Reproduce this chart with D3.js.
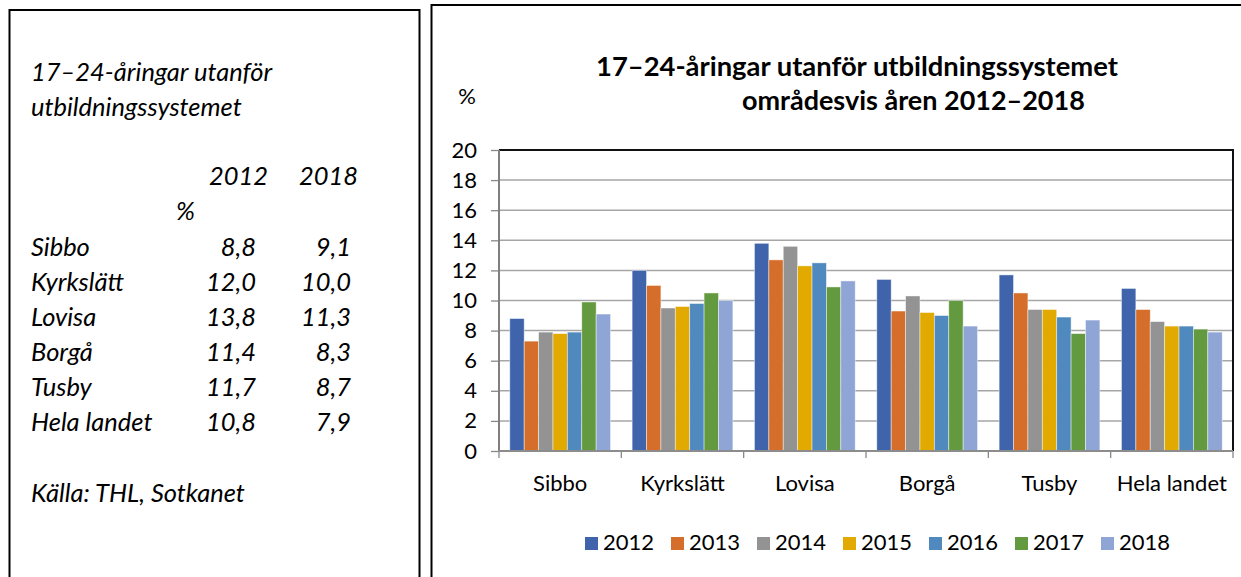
<!DOCTYPE html>
<html><head><meta charset="utf-8">
<script src="https://cdn.jsdelivr.net/npm/d3@7"></script>
<style>
body{margin:0;background:#fff;}
svg{display:block;font-family:Lato,"Open Sans",sans-serif;}
</style>
</head><body>
<svg id="c" width="1241" height="577"></svg>
<script>
// ---- data ----
const categories = ["Sibbo","Kyrkslätt","Lovisa","Borgå","Tusby","Hela landet"];
const years = ["2012","2013","2014","2015","2016","2017","2018"];
const v2012 = [8.8, 12.0, 13.8, 11.4, 11.7, 10.8];
const v2013 = [7.3, 11.0, 12.7, 9.3, 10.5, 9.4];
const v2014 = [7.9, 9.5, 13.6, 10.3, 9.4, 8.6];
const v2015 = [7.8, 9.6, 12.3, 9.2, 9.4, 8.3];
const v2016 = [7.9, 9.8, 12.5, 9.0, 8.9, 8.3];
const v2017 = [9.9, 10.5, 10.9, 10.0, 7.8, 8.1];
const v2018 = [9.1, 10.0, 11.3, 8.3, 8.7, 7.9];
const yTicks = [0,2,4,6,8,10,12,14,16,18,20];
const colors = ["#3F64AB","#D56E2A","#939393","#E2A900","#4F89BE","#639A3F","#8FA5D5"];
const chartTitle1 = "17–24-åringar utanför utbildningssystemet";
const chartTitle2 = "områdesvis åren 2012–2018";
const sideTitle1 = "17–24-åringar utanför";
const sideTitle2 = "utbildningssystemet";
const sideSource = "Källa: THL, Sotkanet";

const series = [v2012,v2013,v2014,v2015,v2016,v2017,v2018];
const rows = categories.map((c,i)=>({cat:c, vals:years.map((y,j)=>({year:y, v:series[j][i], color:colors[j]}))}));

function draw(){
  const svg = d3.select("#c");
  const fmt = v => d3.format(".1f")(v).replace(".", ",");
  function fit(sel, target){
    const n = sel.node();
    const fs = parseFloat(sel.attr("font-size"));
    const w = n.getComputedTextLength();
    return fs*target/w;
  }

  // ---- panels ----
  svg.append("rect").attr("x",9.5).attr("y",10).attr("width",410).attr("height",600)
     .attr("fill","none").attr("stroke","#000").attr("stroke-width",2);
  svg.append("rect").attr("x",431.5).attr("y",5).attr("width",820).attr("height",600)
     .attr("fill","none").attr("stroke","#000").attr("stroke-width",2);

  // ---- left panel text ----
  const lp = svg.append("g").attr("font-style","italic").attr("fill","#000");
  const probe = lp.append("text").attr("font-size",20).text(sideSource);
  const lfs = fit(probe, 214);
  probe.remove();
  const lt = (x,y,t,anchor)=>lp.append("text").attr("x",x).attr("y",y).attr("font-size",lfs)
      .attr("text-anchor",anchor||"start").text(t);
  lt(31,81,sideTitle1);
  lt(31,116,sideTitle2);
  lt(268,185,years[0],"end");
  lt(358,185,years[6],"end");
  lt(176,220,"%");
  categories.forEach((c,i)=>{
    const yb = 256 + i*35;
    lt(31,yb,c);
    lt(256,yb,fmt(v2012[i]),"end");
    lt(351,yb,fmt(v2018[i]),"end");
  });
  lt(31,502,sideSource);

  // ---- chart ----
  const X0=499, X1=1233, Y0=451, Y1=150;
  const x = d3.scaleBand().domain(categories).range([X0,X1]).padding(0);
  const xi = d3.scaleBand().domain(years).range([0,x.bandwidth()]).paddingInner(0).paddingOuter(0.75);
  const y = d3.scaleLinear().domain([0,20]).range([Y0,Y1]);

  const probe2 = svg.append("text").attr("font-size",20).text("Hela landet");
  const afs = fit(probe2, 110);
  probe2.remove();

  // gridlines
  svg.append("g").selectAll("line").data(yTicks.filter(t=>t>0 && t<20)).join("line")
    .attr("x1",X0).attr("x2",X1).attr("y1",d=>y(d)).attr("y2",d=>y(d))
    .attr("stroke","#A6A6A6").attr("stroke-width",1.5);

  // bars
  const g = svg.append("g").selectAll("g").data(rows).join("g")
    .attr("transform",d=>`translate(${x(d.cat)},0)`);
  g.selectAll("rect").data(d=>d.vals).join("rect")
    .attr("x",d=>xi(d.year)).attr("width",xi.bandwidth())
    .attr("y",d=>y(d.v)).attr("height",d=>Y0-y(d.v))
    .attr("fill",d=>d.color).attr("stroke","#fff").attr("stroke-opacity",0.55).attr("stroke-width",0.8);

  // plot border top/right
  svg.append("path").attr("d",`M${X0},${Y1}H${X1}V${Y0}`).attr("fill","none")
    .attr("stroke","#111").attr("stroke-width",2);

  // y axis
  const ya = svg.append("g").attr("transform",`translate(${X0},0)`)
    .call(d3.axisLeft(y).tickValues(yTicks).tickSize(8).tickPadding(14).tickFormat(d3.format("d")));
  ya.select(".domain").remove();
  ya.selectAll(".tick line").attr("stroke","#888").attr("stroke-width",1.3);
  ya.selectAll(".tick text").attr("font-size",afs).attr("font-family","Lato").attr("fill","#000");
  svg.append("line").attr("x1",X0).attr("x2",X0).attr("y1",Y1).attr("y2",Y0+0.5)
    .attr("stroke","#7F7F7F").attr("stroke-width",2);

  // x axis
  const xa = svg.append("g").attr("transform",`translate(0,${Y0})`)
    .call(d3.axisBottom(x).tickSize(0).tickPadding(24));
  xa.select(".domain").remove();
  xa.selectAll(".tick text").attr("font-size",afs).attr("font-family","Lato").attr("fill","#000");
  const bounds = categories.map(c=>x(c)).concat([x(categories[categories.length-1])+x.bandwidth()]);
  svg.append("g").selectAll("line").data(bounds).join("line")
    .attr("x1",d=>d).attr("x2",d=>d).attr("y1",Y0).attr("y2",Y0+7)
    .attr("stroke","#888").attr("stroke-width",1.3);
  svg.append("line").attr("x1",X0-1).attr("x2",X1).attr("y1",Y0).attr("y2",Y0)
    .attr("stroke","#8C8C8C").attr("stroke-width",2);

  // titles
  const t1 = svg.append("text").attr("font-weight","bold").attr("font-size",22).text(chartTitle1);
  t1.attr("font-size",fit(t1,522)).attr("x",596).attr("y",76);
  const t2 = svg.append("text").attr("font-weight","bold").attr("font-size",22).text(chartTitle2);
  t2.attr("font-size",fit(t2,343)).attr("x",742).attr("y",110);
  svg.append("text").attr("x",467).attr("y",104).attr("text-anchor","middle").attr("font-size",afs).text("%");

  // legend
  const leg = svg.append("g").selectAll("g").data(years).join("g")
    .attr("transform",(d,i)=>`translate(${585+i*86},0)`);
  leg.append("rect").attr("x",0).attr("y",537).attr("width",13).attr("height",13)
    .attr("fill",(d,i)=>colors[i]);
  leg.append("text").attr("x",18).attr("y",550).attr("font-size",afs).text(d=>d);
}
if (document.fonts && document.fonts.ready) document.fonts.ready.then(draw); else draw();
</script>
</body></html>
